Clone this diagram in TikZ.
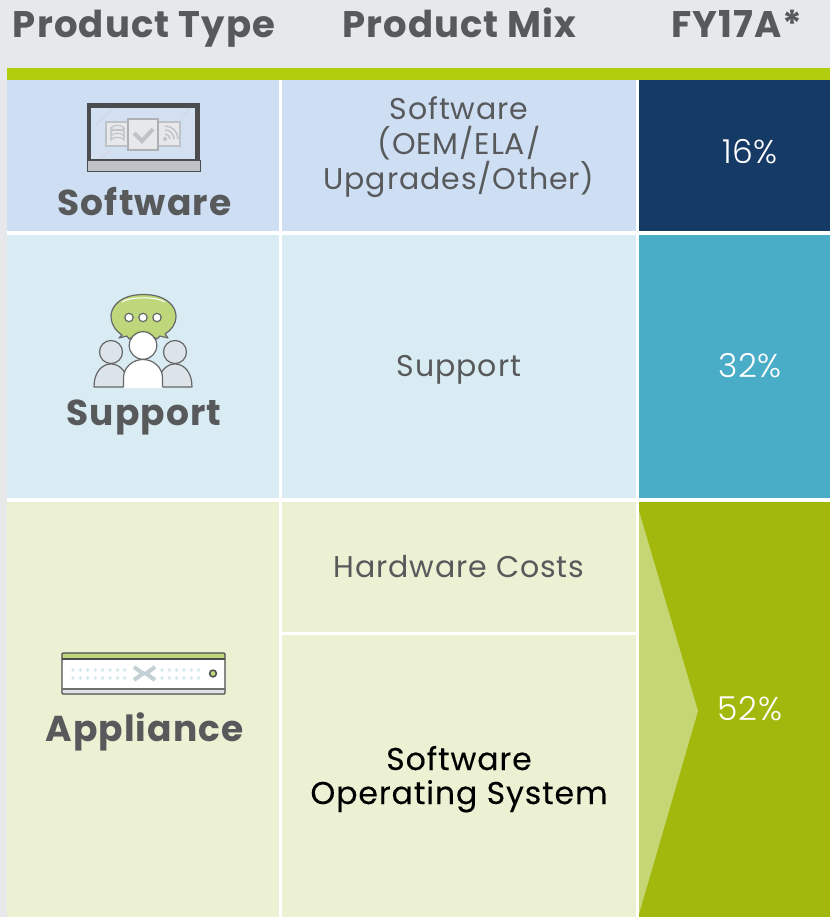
\documentclass[tikz,border=0pt]{standalone}
\usepackage{fontspec}
\setmainfont{Poppins}
\newfontfamily\pctfont[LetterSpace=2]{Poppins Light}
\newfontfamily\headfont[LetterSpace=3,BoldFont={Poppins Bold}]{Poppins}
\newfontfamily\mixfont[LetterSpace=3]{Poppins}
\newfontfamily\mixblackfont[LetterSpace=3,FakeBold=0.2]{Poppins}
\definecolor{pagegray}{HTML}{E7E8EA}
\definecolor{barlime}{HTML}{B1CE0E}
\definecolor{softbg}{HTML}{CEDFF4}
\definecolor{suppbg}{HTML}{D9ECF3}
\definecolor{applbg}{HTML}{ECF1D4}
\definecolor{navy}{HTML}{153A66}
\definecolor{teal}{HTML}{4AADC8}
\definecolor{olive}{HTML}{A2B80C}
\definecolor{palelime}{HTML}{C6D674}
\definecolor{inkgray}{HTML}{58595B}
\definecolor{darkicon}{HTML}{4A4C4E}
\definecolor{midicon}{HTML}{BFC3C7}
\definecolor{lighticon}{HTML}{DFE3E8}
\definecolor{xgray}{HTML}{C3D0D4}
\definecolor{bubble}{HTML}{BDD77A}
\definecolor{person}{HTML}{DDE4E9}
\tikzset{
 head/.style={font=\headfont\bfseries\fontsize{37}{37}\selectfont,text=inkgray,inner sep=0pt,anchor=base},
 type/.style={font=\headfont\bfseries\fontsize{36}{36}\selectfont,text=inkgray,inner sep=0pt,anchor=base},
 mix/.style={font=\mixfont\fontsize{30}{35}\selectfont,text=inkgray,inner sep=0pt,align=center,anchor=base},
 mixblack/.style={font=\mixblackfont\fontsize{31.5}{34}\selectfont,text=black,inner sep=0pt,align=center,anchor=base},
 pct/.style={font=\pctfont\fontsize{33}{33}\selectfont,text=white,inner sep=0pt,anchor=base},
 iconline/.style={draw=darkicon!85,line width=1.2pt,line join=round}
}
\begin{document}
\begin{tikzpicture}[x=1pt,y=-1pt]
\useasboundingbox (0,0) rectangle (830,917);
\fill[pagegray] (0,0) rectangle (830,917);
\fill[white] (7,80) rectangle (830,917);
\fill[barlime] (7,68) rectangle (830,80);
% cells
\fill[softbg] (7,80) rectangle (279,231);
\fill[softbg] (282,80) rectangle (636,231);
\fill[navy] (639,80) rectangle (830,231);
\fill[suppbg] (7,235) rectangle (279,498);
\fill[suppbg] (282,235) rectangle (636,498);
\fill[teal] (639,235) rectangle (830,498);
\fill[applbg] (7,502) rectangle (279,917);
\fill[applbg] (282,502) rectangle (636,632);
\fill[applbg] (282,635) rectangle (636,917);
\fill[olive] (639,502) rectangle (830,917);
\fill[palelime] (639,511) -- (698,711) -- (639,914) -- cycle;
% headers
\node[head] (h1) at (144,37.5) {Product Type};
\node[head] (h2) at (459.5,37.5) {Product Mix};
\node[head] (h3) at (737,37.5) {FY17A*};
% type labels
\node[type] (t1) at (144.5,215.5) {Software};
\node[type] (t2) at (144,425.5) {Support};
\node[type] (t3) at (144.5,741) {Appliance};
% mix
\node[mix] (m1) at (459,190) {Software\\(OEM/ELA/\\Upgrades/Other)};
\node[mix] (m2) at (459,376) {Support};
\node[mix] (m3) at (459,577) {Hardware Costs};
\node[mixblack] (m4) at (459,804) {Software\\Operating System};
% percentages
\node[pct] (p1) at (750,164) {16\%};
\node[pct] (p2) at (750,377) {32\%};
\node[pct] (p3) at (750,720.5) {52\%};
% laptop icon
\fill[darkicon] (87,103) rectangle (200,161);
\fill[softbg!75!lighticon] (91,108) rectangle (195,160);
\draw[lighticon!60!midicon,line width=1pt] (96,125) -- (113,109) (181,119) -- (190,109) (100,159) -- (110,151);
\draw[midicon,fill=pagegray,line width=1.2pt] (106,122) rectangle (128,146);
\draw[midicon,fill=pagegray,line width=1.2pt] (158,122) rectangle (180,146);
\draw[midicon!85!darkicon,fill=pagegray,line width=1.3pt] (128,119) rectangle (158,150);
\draw[midicon,line width=4pt,line join=miter] (134,133) -- (142,141) -- (153,129);
\draw[midicon,line width=1.1pt] (111,128) -- (111,140) arc[start angle=180,end angle=360,x radius=6.5,y radius=2.5] -- (124,128);
\draw[midicon,line width=1.1pt] (117.5,128) ellipse[x radius=6.5,y radius=2.5];
\draw[midicon,line width=1.1pt] (111,132) arc[start angle=180,end angle=360,x radius=6.5,y radius=2.5] (111,136) arc[start angle=180,end angle=360,x radius=6.5,y radius=2.5];
\fill[midicon] (165,139) circle[radius=2];
\draw[midicon,line width=1.4pt] (165,134) arc[start angle=-90,end angle=0,radius=5] (165,130) arc[start angle=-90,end angle=0,radius=9] (165,126) arc[start angle=-90,end angle=0,radius=13];
\fill[midicon] (87,160) rectangle (200,172);
\draw[darkicon,line width=.8pt] (87,160) -- (87,171.5) -- (200,171.5) -- (200,160);
\draw[darkicon,line width=1.2pt] (87,160) -- (200,160);
% support icon
\draw[iconline,fill=bubble] (143.5,294.5) .. controls (120,294.5) and (111,307) .. (111,316) .. controls (111,325) and (117,332) .. (122,335) -- (119,338) -- (127,336) -- (129,339) -- (134,336) -- (152,336) -- (157,339) -- (160,336) -- (168,338) -- (165,334) .. controls (171,330) and (176,325) .. (176,316) .. controls (176,307) and (167,294.5) .. (143.5,294.5) -- cycle;
\draw[white,line width=1pt] (122,302) .. controls (130,296.5) and (156,296.5) .. (165,302);
\fill[bubble!80!olive] (131,337) .. controls (134,328) and (152,328) .. (155,337) -- cycle;
\draw[iconline,fill=white] (129,317.5) circle[radius=4.2];
\draw[iconline,fill=white] (143,317.5) circle[radius=4.2];
\draw[iconline,fill=white] (157,317.5) circle[radius=4.2];
\foreach \cx in {111,175}{
 \draw[iconline,fill=person] (\cx,352) circle[radius=11.5];
 \draw[iconline,fill=person] (\cx-17,387) .. controls (\cx-17,372) and (\cx-9,364) .. (\cx,364) .. controls (\cx+9,364) and (\cx+17,372) .. (\cx+17,387) -- cycle;
}
\draw[iconline,fill=white] (143,345.5) circle[radius=13.8];
\fill[white] (123.5,388) -- (123.5,378) .. controls (123.5,367) and (133,359.5) .. (143,359.5) .. controls (153,359.5) and (162.5,367) .. (162.5,378) -- (162.5,388) -- cycle;
\draw[iconline] (123.5,387) -- (123.5,378) .. controls (123.5,367) and (133,359.5) .. (143,359.5) .. controls (153,359.5) and (162.5,367) .. (162.5,378) -- (162.5,387);
% appliance icon
\fill[white] (62,653) rectangle (225,693);
\fill[bubble] (62,653) rectangle (225,658);
\fill[lighticon] (62,689) rectangle (225,693);
\draw[darkicon,line width=1.2pt,rounded corners=1pt] (62,653) rectangle (225,694);
\draw[darkicon,line width=1.1pt] (62,659) -- (225,659);
\draw[darkicon!80,line width=1.4pt] (62,689) -- (225,689);
\foreach \i in {0,...,7}{
 \fill[suppbg!85!xgray] ({73+\i*7.4},670) circle[radius=1.9];
 \fill[suppbg!85!xgray] ({73+\i*7.4},678) circle[radius=1.9];
}
\foreach \i in {0,...,5}{
 \fill[suppbg!85!xgray] ({162+\i*7.3},670) circle[radius=1.9];
 \fill[suppbg!85!xgray] ({162+\i*7.3},678) circle[radius=1.9];
}
\draw[xgray,line width=4pt] (134,667) -- (143,673.5) -- (134,680);
\draw[xgray,line width=4pt] (155,667) -- (146,673.5) -- (155,680);
\fill[xgray] (140,673.5) -- (143.5,671) -- (147,673.5) -- (143.5,676) -- cycle;
\draw[darkicon,fill=bubble,line width=1.5pt] (213,673.5) circle[radius=3.4];
\end{tikzpicture}
\end{document}
